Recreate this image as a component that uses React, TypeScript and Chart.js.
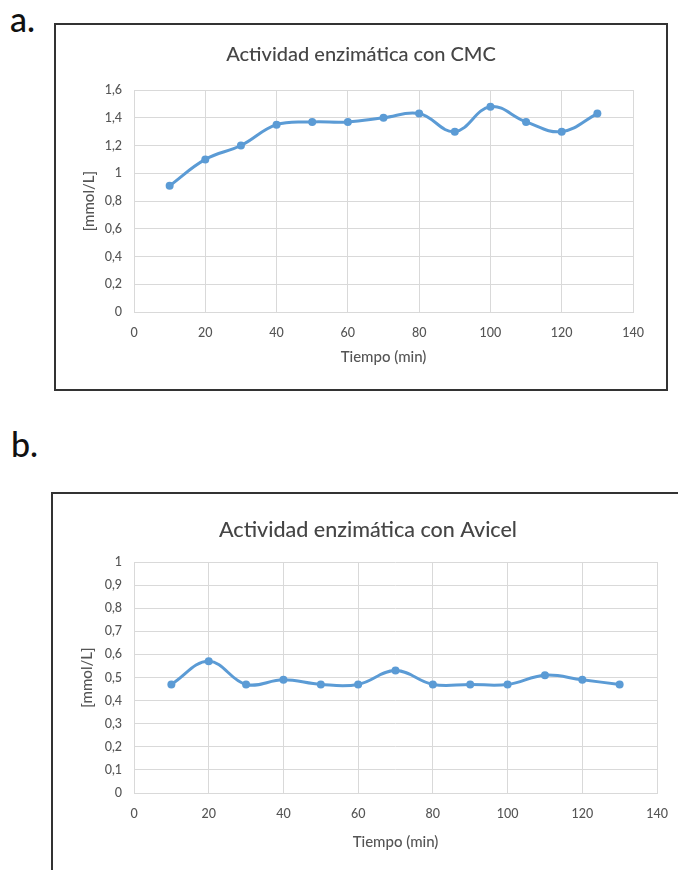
import React, { useEffect, useRef } from 'react';
import { Chart, registerables } from 'chart.js';

Chart.register(...registerables);

// ---- data ----
const timeMin = [10, 20, 30, 40, 50, 60, 70, 80, 90, 100, 110, 120, 130];
const cmcValues = [0.91, 1.1, 1.2, 1.35, 1.37, 1.37, 1.4, 1.43, 1.3, 1.48, 1.37, 1.3, 1.43];
const avicelValues = [0.47, 0.57, 0.47, 0.49, 0.47, 0.47, 0.53, 0.47, 0.47, 0.47, 0.51, 0.49, 0.47];
const xTickValues = [0, 20, 40, 60, 80, 100, 120, 140];
const cmcYTicks = [0, 0.2, 0.4, 0.6, 0.8, 1, 1.2, 1.4, 1.6];
const avicelYTicks = [0, 0.1, 0.2, 0.3, 0.4, 0.5, 0.6, 0.7, 0.8, 0.9, 1];
const titleCMC = 'Actividad enzimática con CMC';
const titleAvicel = 'Actividad enzimática con Avicel';
const xAxisTitle = 'Tiempo (min)';
const yAxisTitle = '[mmol/L]';

const FONT = 'Lato, "Open Sans", sans-serif';
const TEXT = '#555555';
const TITLE_COLOR = '#454545';
const GRID = '#D9D9D9';
const LINE = '#5B9BD5';

const TITLE_LH = 1.2;
const AXT_SIZE = 15;
const AXT_LH = 1.2;
const TICK_SIZE = 12.5;
const TEXT_WEIGHT = 500;

type Geo = {
  w: number; h: number;
  areaLeft: number; areaRight: number; areaTop: number; areaBottom: number;
  titleY: number; titleSize: number; yTitleX: number; xTitleFromBottom: number;
};

function fmt(v: number | string) {
  return String(Number(v)).replace('.', ',');
}

function buildConfig(title: string, values: number[], yTicks: number[], g: Geo): any {
  const tLine = g.titleSize * TITLE_LH;
  const titlePadTop = g.titleY - tLine / 2;
  const titlePadBottom = g.areaTop - titlePadTop - tLine;
  const aLine = AXT_SIZE * AXT_LH;
  return {
    type: 'line',
    data: {
      datasets: [
        {
          data: timeMin.map((t, i) => ({ x: t, y: values[i] })),
          borderColor: LINE,
          backgroundColor: LINE,
          borderWidth: 3,
          pointRadius: 4,
          pointBorderWidth: 0,
          pointBackgroundColor: LINE,
          tension: 0.4,
          fill: false,
          yAxisID: 'y',
        },
      ],
    },
    options: {
      responsive: false,
      animation: false,
      devicePixelRatio: 1,
      layout: { padding: 0 },
      plugins: {
        legend: { display: false },
        tooltip: { enabled: false },
        title: {
          display: true,
          text: title,
          color: TITLE_COLOR,
          font: { family: FONT, size: g.titleSize, weight: TEXT_WEIGHT, lineHeight: TITLE_LH },
          padding: { top: titlePadTop, bottom: titlePadBottom },
        },
      },
      scales: {
        x: {
          type: 'linear',
          min: xTickValues[0],
          max: xTickValues[xTickValues.length - 1],
          afterBuildTicks: (s: any) => { s.ticks = xTickValues.map((v) => ({ value: v })); },
          afterFit: (s: any) => { s.height = g.h - g.areaBottom; },
          grid: { color: GRID, lineWidth: 1, drawTicks: false },
          border: { color: GRID, width: 1 },
          ticks: {
            color: TEXT,
            padding: 13,
            maxRotation: 0,
            font: { family: FONT, size: TICK_SIZE, weight: TEXT_WEIGHT },
            callback: (v: any) => fmt(v),
          },
          title: {
            display: true,
            text: xAxisTitle,
            color: TEXT,
            font: { family: FONT, size: AXT_SIZE, weight: TEXT_WEIGHT, lineHeight: AXT_LH },
            padding: { top: 0, bottom: g.xTitleFromBottom - aLine / 2 },
          },
        },
        y: {
          type: 'linear',
          position: 'left',
          min: yTicks[0],
          max: yTicks[yTicks.length - 1],
          afterBuildTicks: (s: any) => { s.ticks = yTicks.map((v) => ({ value: v })); },
          afterFit: (s: any) => { s.width = g.areaLeft; },
          grid: { color: GRID, lineWidth: 1, drawTicks: false },
          border: { display: false },
          ticks: {
            color: TEXT,
            padding: 12,
            font: { family: FONT, size: TICK_SIZE, weight: TEXT_WEIGHT },
            callback: (v: any) => fmt(v),
          },
          title: {
            display: true,
            text: yAxisTitle,
            color: TEXT,
            font: { family: FONT, size: AXT_SIZE, weight: TEXT_WEIGHT, lineHeight: AXT_LH },
            padding: { top: g.yTitleX - aLine / 2, bottom: 0 },
          },
        },
        // empty right-hand spacer so the chart title stays centred on the whole box
        spacer: {
          type: 'linear',
          position: 'right',
          display: true,
          grid: { display: false, drawOnChartArea: false },
          border: { display: false },
          ticks: { display: false },
          afterFit: (s: any) => { s.width = g.w - g.areaRight; },
        },
      },
    },
  };
}

function ChartCanvas(props: { title: string; values: number[]; yTicks: number[]; geo: Geo; left: number; top: number }) {
  const ref = useRef<HTMLCanvasElement | null>(null);
  useEffect(() => {
    if (!ref.current) return;
    const chart = new Chart(ref.current, buildConfig(props.title, props.values, props.yTicks, props.geo));
    return () => chart.destroy();
  }, []);
  const { geo, left, top } = props;
  return (
    <canvas
      ref={ref}
      width={geo.w}
      height={geo.h}
      style={{ position: 'absolute', left, top, width: geo.w, height: geo.h, display: 'block' }}
    />
  );
}

const geoA: Geo = {
  w: 610, h: 364,
  areaLeft: 78, areaRight: 577, areaTop: 65, areaBottom: 287,
  titleY: 30, titleSize: 20, yTitleX: 33, xTitleFromBottom: 32,
};
const geoB: Geo = {
  w: 630, h: 376,
  areaLeft: 81, areaRight: 604, areaTop: 68, areaBottom: 299,
  titleY: 36, titleSize: 21.5, yTitleX: 34, xTitleFromBottom: 28,
};

export default function App() {
  const labelStyle: React.CSSProperties = {
    position: 'absolute',
    fontFamily: FONT,
    fontSize: 34,
    fontWeight: 500,
    lineHeight: '34px',
    color: '#111',
    margin: 0,
  };
  return (
    <div
      style={{
        position: 'absolute', left: 0, top: 0, width: 678, height: 870,
        overflow: 'hidden', background: '#fff',
      }}
    >
      <div style={{ ...labelStyle, left: 10, top: 2 }}>a.</div>
      <div
        style={{
          position: 'absolute', left: 54, top: 23, width: 614, height: 368,
          border: '2px solid #333', boxSizing: 'border-box',
        }}
      />
      <ChartCanvas title={titleCMC} values={cmcValues} yTicks={cmcYTicks} geo={geoA} left={56} top={25} />

      <div style={{ ...labelStyle, left: 11, top: 427 }}>b.</div>
      <div
        style={{
          position: 'absolute', left: 51, top: 492, width: 700, height: 500,
          border: '2px solid #333', boxSizing: 'border-box',
        }}
      />
      <ChartCanvas title={titleAvicel} values={avicelValues} yTicks={avicelYTicks} geo={geoB} left={53} top={494} />
    </div>
  );
}
